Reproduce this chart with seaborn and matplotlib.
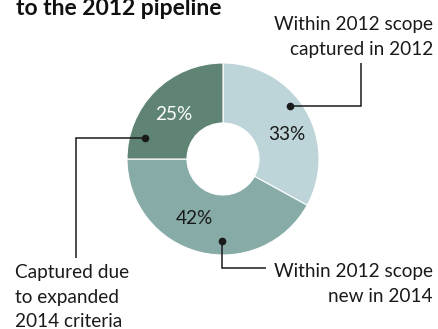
import matplotlib
matplotlib.use("Agg")
import matplotlib.pyplot as plt
import seaborn as sns

# Share of the 2014 pipeline, clockwise from 12 o'clock
segments = ["Within 2012 scope\ncaptured in 2012",
            "Within 2012 scope\nnew in 2014",
            "Captured due\nto expanded\n2014 criteria"]
shares = [33, 42, 25]
colors = ["#bdd4d8", "#87aca7", "#5f8474"]
pct_colors = ["#1a1a1a", "#1a1a1a", "#ffffff"]
title = "to the 2012 pipeline"

sns.set_theme(style="white")
plt.rcParams["font.family"] = ["Lato", "DejaVu Sans"]

W, H = 438, 329
fig = plt.figure(figsize=(W / 100, H / 100), dpi=100)
ax = fig.add_axes([0, 0, 1, 1])


def Y(y):
    # pixel row (top-down) to data y (bottom-up)
    return H - y


cx, cy, r_out, r_in = 223, 159, 96, 36
palette = sns.color_palette(colors)
ax.pie(shares, colors=palette, startangle=90, counterclock=False,
       center=(cx, Y(cy)), radius=r_out,
       wedgeprops=dict(width=r_out - r_in, edgecolor="white", linewidth=0.8))
ax.set_xlim(0, W)
ax.set_ylim(0, H)
ax.set_aspect("equal")
ax.axis("off")

fs = 13.7
ink = "#1a1a1a"

# percentage labels inside the ring
pct_pos = [(287, 134), (194, 219), (174, 115)]
for v, (x, y), c in zip(shares, pct_pos, pct_colors):
    ax.text(x, Y(y), f"{v}%", ha="center", va="center", fontsize=fs, color=c)

# leader lines: dot in the wedge, elbow out to the label
leaders = [
    [(290, 106), (361, 106), (361, 63)],
    [(222, 241), (222, 268), (266, 268)],
    [(145, 138), (76, 138), (76, 258)],
]
for pts in leaders:
    xs = [p[0] for p in pts]
    ys = [Y(p[1]) for p in pts]
    ax.plot(xs, ys, color=ink, lw=1.1, solid_capstyle="butt",
            solid_joinstyle="miter")
    ax.plot(xs[0], ys[0], "o", color=ink, ms=4.5)

# segment labels, one text per line
label_layout = [
    (433, [30, 54.5], "right"),
    (433, [277, 301.5], "right"),
    (15, [278, 302.5, 327], "left"),
]
for text, (x, baselines, ha) in zip(segments, label_layout):
    for line, yb in zip(text.split("\n"), baselines):
        ax.text(x, Y(yb), line, ha=ha, va="baseline", fontsize=fs, color=ink)

ax.text(16, Y(15), title, ha="left", va="baseline", fontsize=16.5,
        fontweight="bold", color="#111111")

fig.savefig("out.png", dpi=100)
